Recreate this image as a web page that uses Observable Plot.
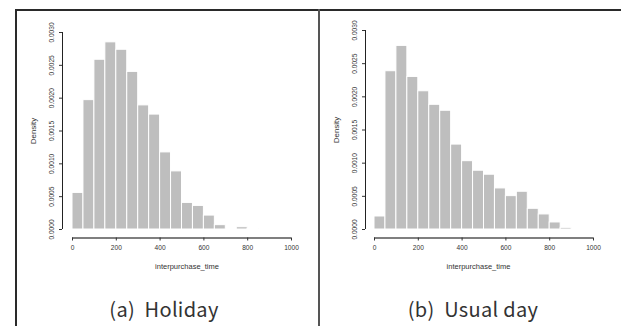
<!DOCTYPE html>
<html><head><meta charset="utf-8">
<script src="https://cdn.jsdelivr.net/npm/d3@7"></script>
<script src="https://cdn.jsdelivr.net/npm/@observablehq/plot@0.6"></script>
<style>
html,body{margin:0;padding:0;background:#fff;}
#wrap{position:relative;width:621px;height:326px;overflow:hidden;background:#fff;}
.ln{position:absolute;background:#2a2a2a;}
.cap{position:absolute;top:296px;font-family:"Noto Sans CJK KR","DejaVu Sans",sans-serif;font-size:20px;color:#333;white-space:pre;transform:translateX(-50%);line-height:26px;letter-spacing:0.3px;}
.pl{position:absolute;top:11px;}
</style>
</head><body>
<div id="wrap">
  <div class="ln" style="left:15px;top:9px;width:606px;height:2px;"></div>
  <div class="ln" style="left:15px;top:9px;width:2px;height:317px;"></div>
  <div class="ln" style="left:318px;top:9px;width:2px;height:317px;background:#555;"></div>
  <div id="p1" class="pl" style="left:17px;"></div>
  <div id="p2" class="pl" style="left:320px;"></div>
  <div class="cap" style="left:164px;">(a)  Holiday</div>
  <div class="cap" style="left:473px;">(b)  Usual day</div>
</div>
<script>
const binWidth = 50;
const holidayStarts = [0,50,100,150,200,250,300,350,400,450,500,550,600,650,700,750,800];
const holidayDensity = [0.000557,0.00197,0.002585,0.00285,0.002737,0.0024,0.00189,0.00175,0.001174,0.000885,0.000405,0.000359,0.000212,0.000066,0,0.000035,0.000008];
const usualStarts = [0,50,100,150,200,250,300,350,400,450,500,550,600,650,700,750,800,850];
const usualDensity = [0.000196,0.002386,0.002768,0.0023,0.002084,0.00188,0.00179,0.00128,0.00103,0.000886,0.000826,0.000619,0.000503,0.000569,0.000312,0.000227,0.000106,0.000025];
const xTicks = [0,200,400,600,800,1000];
const yTicks = [0,0.0005,0.001,0.0015,0.002,0.0025,0.003];
const xLabel = "interpurchase_time";
const yLabel = "Density";

function hist(starts, dens, opts) {
  const data = starts.map((s,i)=>({x1:s, x2:s+binWidth, y:dens[i]}));
  return Plot.plot({
    width: opts.width, height: 270,
    marginLeft: 45, marginRight: opts.marginRight, marginTop: opts.marginTop, marginBottom: 43.5,
    style: {fontFamily: "'Liberation Sans', Arial, sans-serif", background: "transparent", color: "#333"},
    x: {domain: [0,1000], insetLeft: opts.insetLeft},
    y: {domain: [0,0.003], insetBottom: 8.5},
    marks: [
      Plot.rectY(data, {x1:"x1", x2:"x2", y:"y", fill:"#bebebe", stroke:"white", strokeWidth:1}),
      Plot.ruleY([0], {x1: 0, x2: 1000, dy: 8.5, stroke:"#555", strokeWidth:1.5}),
      Plot.ruleX([0], {y1: 0, y2: 0.003, dx: -opts.insetLeft, stroke:"#222", strokeWidth:1}),
      Plot.axisX({ticks: xTicks, tickSize: 3, tickPadding: 4, label: null, fontSize: 6.6, tickFormat: d3.format("d")}),
      Plot.axisY({ticks: yTicks, tickSize: 3, tickFormat: () => "", label: null}),
      Plot.text(yTicks, {x: 0, y: d=>d, text: d=>d.toFixed(4), rotate: -90, dx: -opts.insetLeft - 11, fontSize: 6.6, fill:"#333"}),
      Plot.text([yLabel], {x: 0, y: 0.0015, text: d=>d, rotate: -90, dx: -opts.insetLeft - 29, fontSize: 8, fill:"#333"}),
      Plot.text([xLabel], {frameAnchor: "bottom", text: d=>d, dy: 30.5, dx: opts.xlabDx, fontSize: 7.5, fill:"#333"})
    ]
  });
}
document.getElementById("p1").append(hist(holidayStarts, holidayDensity, {width:302, marginRight:28, marginTop:21, insetLeft:10, xlabDx:10}));
document.getElementById("p2").append(hist(usualStarts, usualDensity, {width:301, marginRight:28, marginTop:19, insetLeft:9, xlabDx:-1}));
</script>
</body></html>
